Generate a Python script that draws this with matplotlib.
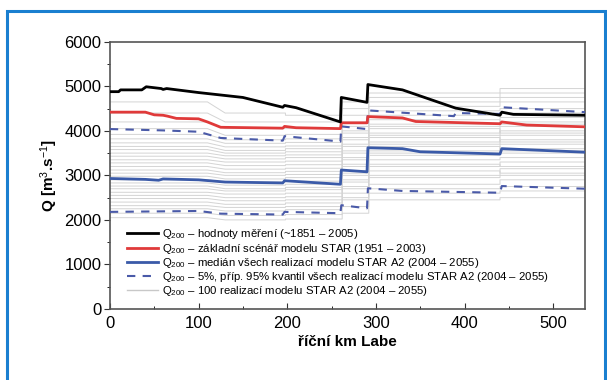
import matplotlib
matplotlib.use("Agg")
import matplotlib.pyplot as plt
import matplotlib.ticker as ticker
from matplotlib.patches import Rectangle

plt.rcParams['font.family'] = ['Liberation Sans', 'DejaVu Sans']
plt.rcParams['mathtext.fontset'] = 'custom'
plt.rcParams['mathtext.rm'] = 'Liberation Sans'
plt.rcParams['mathtext.it'] = 'Liberation Sans'
plt.rcParams['mathtext.bf'] = 'Liberation Sans:bold'

# measured Q200
km_obs = [0, 10, 12, 36, 41, 58, 60, 64, 100, 150, 195, 197, 210, 260, 261, 290, 291, 330, 390, 440, 442, 455, 536]
q_obs = [4880, 4880, 4920, 4920, 4990, 4950, 4930, 4950, 4860, 4750, 4530, 4570, 4520, 4200, 4750, 4640, 5040, 4920, 4510, 4350, 4420, 4370, 4350]

# base scenario STAR
km_base = [0, 40, 50, 60, 65, 75, 100, 110, 125, 195, 197, 210, 260, 261, 290, 291, 330, 345, 440, 442, 470, 536]
q_base = [4420, 4420, 4360, 4350, 4330, 4280, 4270, 4200, 4080, 4060, 4100, 4070, 4050, 4180, 4180, 4320, 4290, 4210, 4160, 4200, 4130, 4090]

# median of realizations
km_med = [0, 40, 55, 60, 100, 130, 195, 197, 260, 261, 290, 291, 330, 350, 440, 442, 536]
q_med = [2930, 2910, 2890, 2920, 2900, 2850, 2830, 2880, 2800, 3120, 3080, 3620, 3600, 3530, 3480, 3600, 3520]

# 95% quantile
km_q95 = [0, 60, 100, 125, 195, 197, 260, 261, 290, 291, 388, 390, 440, 442, 536]
q_q95 = [4040, 4010, 3980, 3840, 3780, 3880, 3760, 4100, 4040, 4460, 4330, 4400, 4380, 4530, 4420]

# 5% quantile
km_q05 = [0, 100, 125, 195, 197, 260, 261, 290, 291, 330, 440, 442, 536]
q_q05 = [2180, 2200, 2140, 2120, 2180, 2150, 2330, 2260, 2710, 2650, 2610, 2760, 2700]

# individual realizations: levels in reaches 0-110, 130-198, 198-262, 262-292, 292-440, 440-536
reach_km = [0, 110, 130, 198, 262, 292, 440, 536]
realizations = [
    [2050, 2000, 2020, 2150, 2450, 2500],
    [2150, 2100, 2120, 2300, 2600, 2650],
    [2250, 2200, 2230, 2450, 2800, 2900],
    [2320, 2280, 2300, 2500, 2700, 2750],
    [2400, 2350, 2380, 2600, 2950, 3000],
    [2480, 2430, 2450, 2700, 3100, 3050],
    [2550, 2500, 2520, 2750, 3000, 3150],
    [2620, 2580, 2600, 2850, 3250, 3200],
    [2700, 2650, 2680, 2900, 3350, 3400],
    [2760, 2700, 2730, 3000, 3200, 3300],
    [2830, 2780, 2800, 3050, 3450, 3500],
    [2900, 2850, 2870, 3100, 3550, 3600],
    [2980, 2920, 2950, 3200, 3650, 3550],
    [3050, 3000, 3020, 3250, 3500, 3700],
    [3120, 3060, 3090, 3350, 3750, 3800],
    [3200, 3140, 3160, 3400, 3850, 3750],
    [3280, 3220, 3240, 3500, 3700, 3900],
    [3350, 3300, 3320, 3550, 3950, 4000],
    [3430, 3370, 3400, 3650, 4050, 3950],
    [3500, 3440, 3460, 3700, 3900, 4100],
    [3580, 3500, 3530, 3800, 4150, 4200],
    [3650, 3560, 3600, 3850, 4250, 4150],
    [3730, 3640, 3660, 3950, 4100, 4300],
    [3820, 3720, 3740, 4000, 4350, 4400],
    [3920, 3800, 3820, 4100, 4450, 4500],
    [4050, 3900, 3920, 4200, 4550, 4650],
    [4200, 4050, 4050, 4350, 4650, 4750],
    [4400, 4200, 4200, 4500, 4750, 4850],
    [4650, 4400, 4350, 4650, 4850, 4950],
]

labels = [
    "Q$_{200}$ – hodnoty měření (~1851 – 2005)",
    "Q$_{200}$ – základní scénář modelu STAR (1951 – 2003)",
    "Q$_{200}$ – medián všech realizací modelu STAR A2 (2004 – 2055)",
    "Q$_{200}$ – 5%, příp. 95% kvantil všech realizací modelu STAR A2 (2004 – 2055)",
    "Q$_{200}$ – 100 realizací modelu STAR A2 (2004 – 2055)",
]


def reach_profile(levels):
    k = reach_km
    xs = [k[0], k[1], k[2], k[3], k[3], k[4], k[4], k[5], k[5], k[6], k[6], k[7]]
    ys = [levels[0], levels[0], levels[1], levels[1], levels[2], levels[2],
          levels[3], levels[3], levels[4], levels[4], levels[5], levels[5]]
    return xs, ys


fig = plt.figure(figsize=(6.07, 3.8), dpi=100)
ax = fig.add_axes([0.181, 0.187, 0.783, 0.703])

gray = "#d4d4d4"
for r in realizations:
    xs, ys = reach_profile(r)
    ax.plot(xs, ys, color=gray, lw=0.7, zorder=1)

ax.plot(km_q95, q_q95, color="#4a5aa8", lw=1.5, dashes=(4, 3.5), zorder=3)
ax.plot(km_q05, q_q05, color="#4a5aa8", lw=1.5, dashes=(4, 3.5), zorder=3)
ax.plot(km_med, q_med, color="#3a5aa8", lw=2, zorder=4)
ax.plot(km_base, q_base, color="#e03a3a", lw=2, zorder=4)
ax.plot(km_obs, q_obs, color="black", lw=2, zorder=5)

handles = [
    plt.Line2D([], [], color="black", lw=2),
    plt.Line2D([], [], color="#e03a3a", lw=2),
    plt.Line2D([], [], color="#3a5aa8", lw=2),
    plt.Line2D([], [], color="#4a5aa8", lw=1.5, dashes=(4, 3.5)),
    plt.Line2D([], [], color="#c8c8c8", lw=1),
]
ax.legend(handles, labels, loc="upper left", bbox_to_anchor=(0.035, 0.305),
          frameon=False, fontsize=8.2, handlelength=2.8, handletextpad=0.3,
          labelspacing=0.02, borderaxespad=0, borderpad=0)

ax.set_xlim(0, 536)
ax.set_ylim(0, 6000)
ax.xaxis.set_major_locator(ticker.MultipleLocator(100))
ax.xaxis.set_minor_locator(ticker.MultipleLocator(50))
ax.yaxis.set_major_locator(ticker.MultipleLocator(1000))
ax.yaxis.set_minor_locator(ticker.MultipleLocator(500))
ax.tick_params(axis="both", labelsize=12, colors="#333333", labelcolor="black")
ax.tick_params(axis="x", direction="in", length=4, pad=5)
ax.tick_params(axis="x", which="minor", direction="in", length=2.5)
ax.tick_params(axis="y", direction="out", length=4, pad=2)
ax.tick_params(axis="y", which="minor", direction="out", length=2.5)
for s in ax.spines.values():
    s.set_color("#555555")
    s.set_linewidth(1.2)

ax.set_xlabel("říční km Labe", fontsize=11, fontweight="bold", labelpad=3)
ax.set_ylabel("Q [m$^3$.s$^{-1}$]", fontsize=11, fontweight="bold", labelpad=3)

fig.patches.append(Rectangle((7 / 607, -0.1), 598 / 607, 1 - 11 / 380 + 0.1,
                             transform=fig.transFigure, fill=False,
                             edgecolor="#1a7fd0", lw=2.2, clip_on=False))

fig.savefig("out.png", dpi=100)
